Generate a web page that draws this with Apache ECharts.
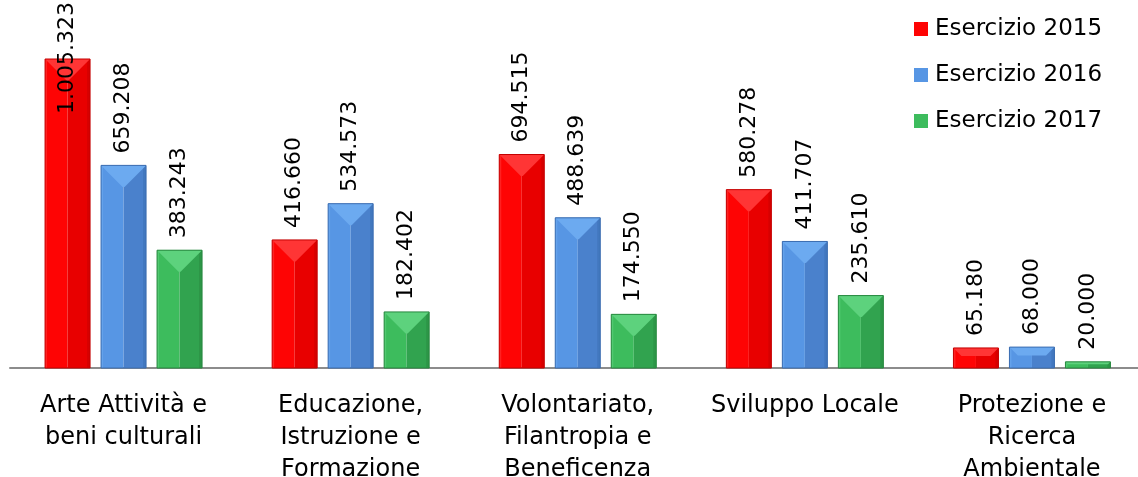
<!DOCTYPE html>
<html>

<head>
    <meta charset="utf-8">
    <title>Erogazioni per settore</title>
    <style>
        *{
            margin: 0;
            padding: 0;
        }
        body{
            background: #ffffff;
        }
        #main{
            width: 1138px;
            height: 477px;
        }
    </style>
    <script src="https://cdn.jsdelivr.net/npm/echarts@6/dist/echarts.min.js"></script>
</head>

<body>
    <div id="main"></div>

    <script type="text/javascript">
        // categorie (settori)
        const categories = [
            'Arte Attività e\nbeni culturali',
            'Educazione,\nIstruzione e\nFormazione',
            'Volontariato,\nFilantropia e\nBeneficenza',
            'Sviluppo Locale',
            'Protezione e\nRicerca\nAmbientale'
        ];
        const seriesNames = ['Esercizio 2015', 'Esercizio 2016', 'Esercizio 2017'];

        // valori
        const values2015 = [1005323, 416660, 694515, 580278, 65180];
        const values2016 = [659208, 534573, 488639, 411707, 68000];
        const values2017 = [383243, 182402, 174550, 235610, 20000];

        const fontFamily = 'DejaVu Sans';
        const labelFont = '22px "DejaVu Sans"';

        // barre con effetto smussato
        const BAR_W = 45;
        const BAR_GAP = 11;
        const GROUP_W = 3 * BAR_W + 2 * BAR_GAP;

        // colori: [sinistra, destra, smusso alto, bordo]
        const palette = [
            ['#fe0404', '#e80000', '#ff3535', '#c40000'],
            ['#5796e4', '#4a81cc', '#6caaf0', '#3a6cb0'],
            ['#3dbc5d', '#31a34f', '#5dd27d', '#27883f']
        ];

        // formato italiano: 1.005.323
        function fmt(v) {
            return String(v).replace(/\B(?=(\d{3})+(?!\d))/g, '.');
        }

        const measureCtx = document.createElement('canvas').getContext('2d');
        measureCtx.font = labelFont;

        function renderBar(si) {
            return function (params, api) {
                const cat = api.value(0);
                const val = api.value(1);
                const base = api.coord([cat, 0]);
                const top = api.coord([cat, val]);
                const x0 = base[0] - GROUP_W / 2 + si * (BAR_W + BAR_GAP);
                const x1 = x0 + BAR_W;
                const xm = x0 + BAR_W / 2;
                const y0 = top[1];
                const y1 = base[1];
                const h = y1 - y0;
                const d = Math.min(BAR_W / 2 - 1, h * 0.4);
                const c = palette[si];

                // etichetta ruotata sopra la barra (dentro se non c'e' spazio)
                const txt = fmt(val);
                const len = measureCtx.measureText(txt).width;
                let ly = y0 - 12;
                let align = 'left';
                if (ly - len < 2) {
                    ly = 2;
                    align = 'right';
                }

                return {
                    type: 'group',
                    children: [
                        { type: 'rect', shape: { x: x0, y: y0, width: BAR_W / 2, height: h }, style: { fill: c[0] } },
                        { type: 'rect', shape: { x: xm, y: y0, width: BAR_W / 2, height: h }, style: { fill: c[1] } },
                        { type: 'rect', shape: { x: x0, y: y0, width: 2, height: h }, style: { fill: c[2], opacity: 0.6 } },
                        { type: 'rect', shape: { x: x1 - 3, y: y0, width: 3, height: h }, style: { fill: c[3], opacity: 0.45 } },
                        {
                            type: 'polygon',
                            shape: { points: [[x0, y0], [x1, y0], [x1 - d, y0 + d], [x0 + d, y0 + d]] },
                            style: { fill: c[2] }
                        },
                        {
                            type: 'rect',
                            shape: { x: x0, y: y0, width: BAR_W, height: h },
                            style: { fill: null, stroke: c[3], lineWidth: 1 }
                        },
                        {
                            type: 'text',
                            x: xm,
                            y: ly,
                            rotation: Math.PI / 2,
                            style: {
                                text: txt,
                                font: labelFont,
                                fill: '#000000',
                                align: align,
                                verticalAlign: 'middle'
                            }
                        }
                    ]
                };
            };
        }

        function makeSeries(name, values, si) {
            return {
                name: name,
                type: 'custom',
                renderItem: renderBar(si),
                encode: { x: 0, y: 1 },
                itemStyle: { color: palette[si][0] },
                data: values.map((v, j) => [j, v])
            };
        }

        const chart = echarts.init(document.getElementById('main'));

        const option = {
            animation: false,
            backgroundColor: '#ffffff',
            grid: {
                left: 10,
                width: 1135.5,
                top: 59,
                bottom: 109,
                outerBoundsMode: 'none'
            },
            legend: {
                orient: 'vertical',
                left: 914,
                top: 17,
                padding: 0,
                itemWidth: 14,
                itemHeight: 14,
                itemGap: 22,
                icon: 'rect',
                textStyle: {
                    fontFamily: fontFamily,
                    fontSize: 23,
                    lineHeight: 24,
                    color: '#000000',
                    padding: [0, 0, 0, 2]
                },
                data: seriesNames
            },
            xAxis: {
                type: 'category',
                data: categories,
                axisLine: { lineStyle: { color: '#8c8c8c', width: 2 } },
                axisTick: { show: false },
                axisLabel: {
                    interval: 0,
                    margin: 22,
                    fontFamily: fontFamily,
                    fontSize: 24,
                    lineHeight: 32,
                    color: '#000000',
                    verticalAlign: 'top'
                }
            },
            yAxis: {
                type: 'value',
                min: 0,
                max: 'dataMax',
                show: false,
                splitLine: { show: false }
            },
            series: [
                makeSeries(seriesNames[0], values2015, 0),
                makeSeries(seriesNames[1], values2016, 1),
                makeSeries(seriesNames[2], values2017, 2)
            ]
        };

        chart.setOption(option);
    </script>

</body>

</html>
